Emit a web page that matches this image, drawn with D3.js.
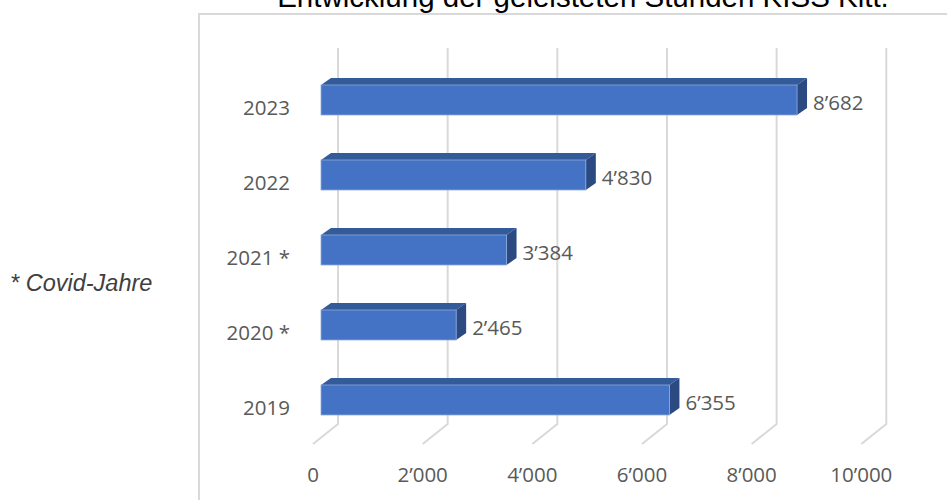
<!DOCTYPE html>
<html>
<head>
<meta charset="utf-8">
<script src="https://cdn.jsdelivr.net/npm/d3@7"></script>
<style>
  html, body { margin: 0; padding: 0; background: #fff; overflow: hidden; }
  .tick-label, .cat-label, .value-label { font-family: 'Open Sans', sans-serif; fill: #595959; }
  .title { font-family: 'Liberation Sans', Arial, sans-serif; fill: #000; }
  .note { font-family: 'Liberation Sans', Arial, sans-serif; font-style: italic; fill: #404040; }
</style>
</head>
<body>
<div id="app"></div>
<script>
const years = ['2023', '2022', '2021 *', '2020 *', '2019'];
const hours = [8682, 4830, 3384, 2465, 6355];
const ticks = [0, 2000, 4000, 6000, 8000, 10000];

const width = 947;
const height = 500;
const depth = [10, -7];      // bar top/side offset
const wallShift = 17;        // back wall gridlines vs. front face
const floorDrop = [-25, 20]; // diagonal floor line

const fmt = v => d3.format(',')(v).replace(/,/g, '\u2019');

const svg = d3.select('#app').append('svg')
  .attr('width', width)
  .attr('height', height);

const x = d3.scaleLinear()
  .domain([0, 10000])
  .range([321, 869.3]);

const y = d3.scaleBand()
  .domain(years)
  .range([62.5, 437.5])
  .paddingInner(0.6)
  .paddingOuter(0.3);

// chart area border (runs past the window edges)
svg.append('rect')
  .attr('x', 199)
  .attr('y', 14)
  .attr('width', 800)
  .attr('height', 520)
  .attr('fill', 'none')
  .attr('stroke', '#d9d9d9')
  .attr('stroke-width', 2);

svg.append('text')
  .classed('title', true)
  .attr('x', 583)
  .attr('y', 7)
  .attr('text-anchor', 'middle')
  .style('font-size', '29.5px')
  .text('Entwicklung der geleisteten Stunden KISS Kitt.');

// gridlines on the back wall + floor diagonals
const grid = svg.append('g');
const gridTop = 48;
const gridBottom = 424;

grid.selectAll()
  .data(ticks)
  .enter().append('path')
  .attr('d', d => {
    const gx = x(d) + wallShift;
    return `M${gx},${gridTop}V${gridBottom}l${floorDrop[0]},${floorDrop[1]}`;
  })
  .attr('fill', 'none')
  .attr('stroke', '#d9d9d9')
  .attr('stroke-width', 2);

grid.selectAll()
  .data(ticks)
  .enter().append('text')
  .classed('tick-label', true)
  .attr('x', d => x(d) + wallShift + floorDrop[0])
  .attr('y', 482)
  .attr('text-anchor', 'middle')
  .style('font-size', '20.5px')
  .text(fmt);

// 3D bars
const data = years.map((year, i) => ({ year, value: hours[i] }));
const bars = svg.append('g');
const bw = y.bandwidth();

const bar = bars.selectAll()
  .data(data)
  .enter().append('g');

bar.append('path')
  .attr('d', d => {
    const x0 = x(0), x1 = x(d.value), y0 = y(d.year);
    return `M${x0},${y0}l${depth[0]},${depth[1]}H${x1 + depth[0]}l${-depth[0]},${-depth[1]}Z`;
  })
  .attr('fill', '#335a99');

bar.append('path')
  .attr('d', d => {
    const x1 = x(d.value), y0 = y(d.year);
    return `M${x1},${y0}l${depth[0]},${depth[1]}v${bw}l${-depth[0]},${-depth[1]}Z`;
  })
  .attr('fill', '#2b4a82');

bar.append('rect')
  .attr('x', x(0))
  .attr('y', d => y(d.year))
  .attr('width', d => x(d.value) - x(0))
  .attr('height', bw)
  .attr('fill', '#4472c4')
  .attr('stroke', '#8eaadb')
  .attr('stroke-width', 0.8);

bar.append('text')
  .classed('value-label', true)
  .attr('x', d => x(d.value) + 16)
  .attr('y', d => y(d.year) + bw / 2 + 3)
  .attr('dy', '0.35em')
  .style('font-size', '20.5px')
  .text(d => fmt(d.value));

svg.append('g').selectAll()
  .data(years)
  .enter().append('text')
  .classed('cat-label', true)
  .attr('x', 290)
  .attr('y', d => y(d) + bw / 2 + 8)
  .attr('dy', '0.35em')
  .attr('text-anchor', 'end')
  .style('font-size', '20.5px')
  .text(d => d);

svg.append('text')
  .classed('note', true)
  .attr('x', 10)
  .attr('y', 283)
  .attr('dy', '0.35em')
  .style('font-size', '23.5px')
  .text('* Covid-Jahre');
</script>
</body>
</html>
